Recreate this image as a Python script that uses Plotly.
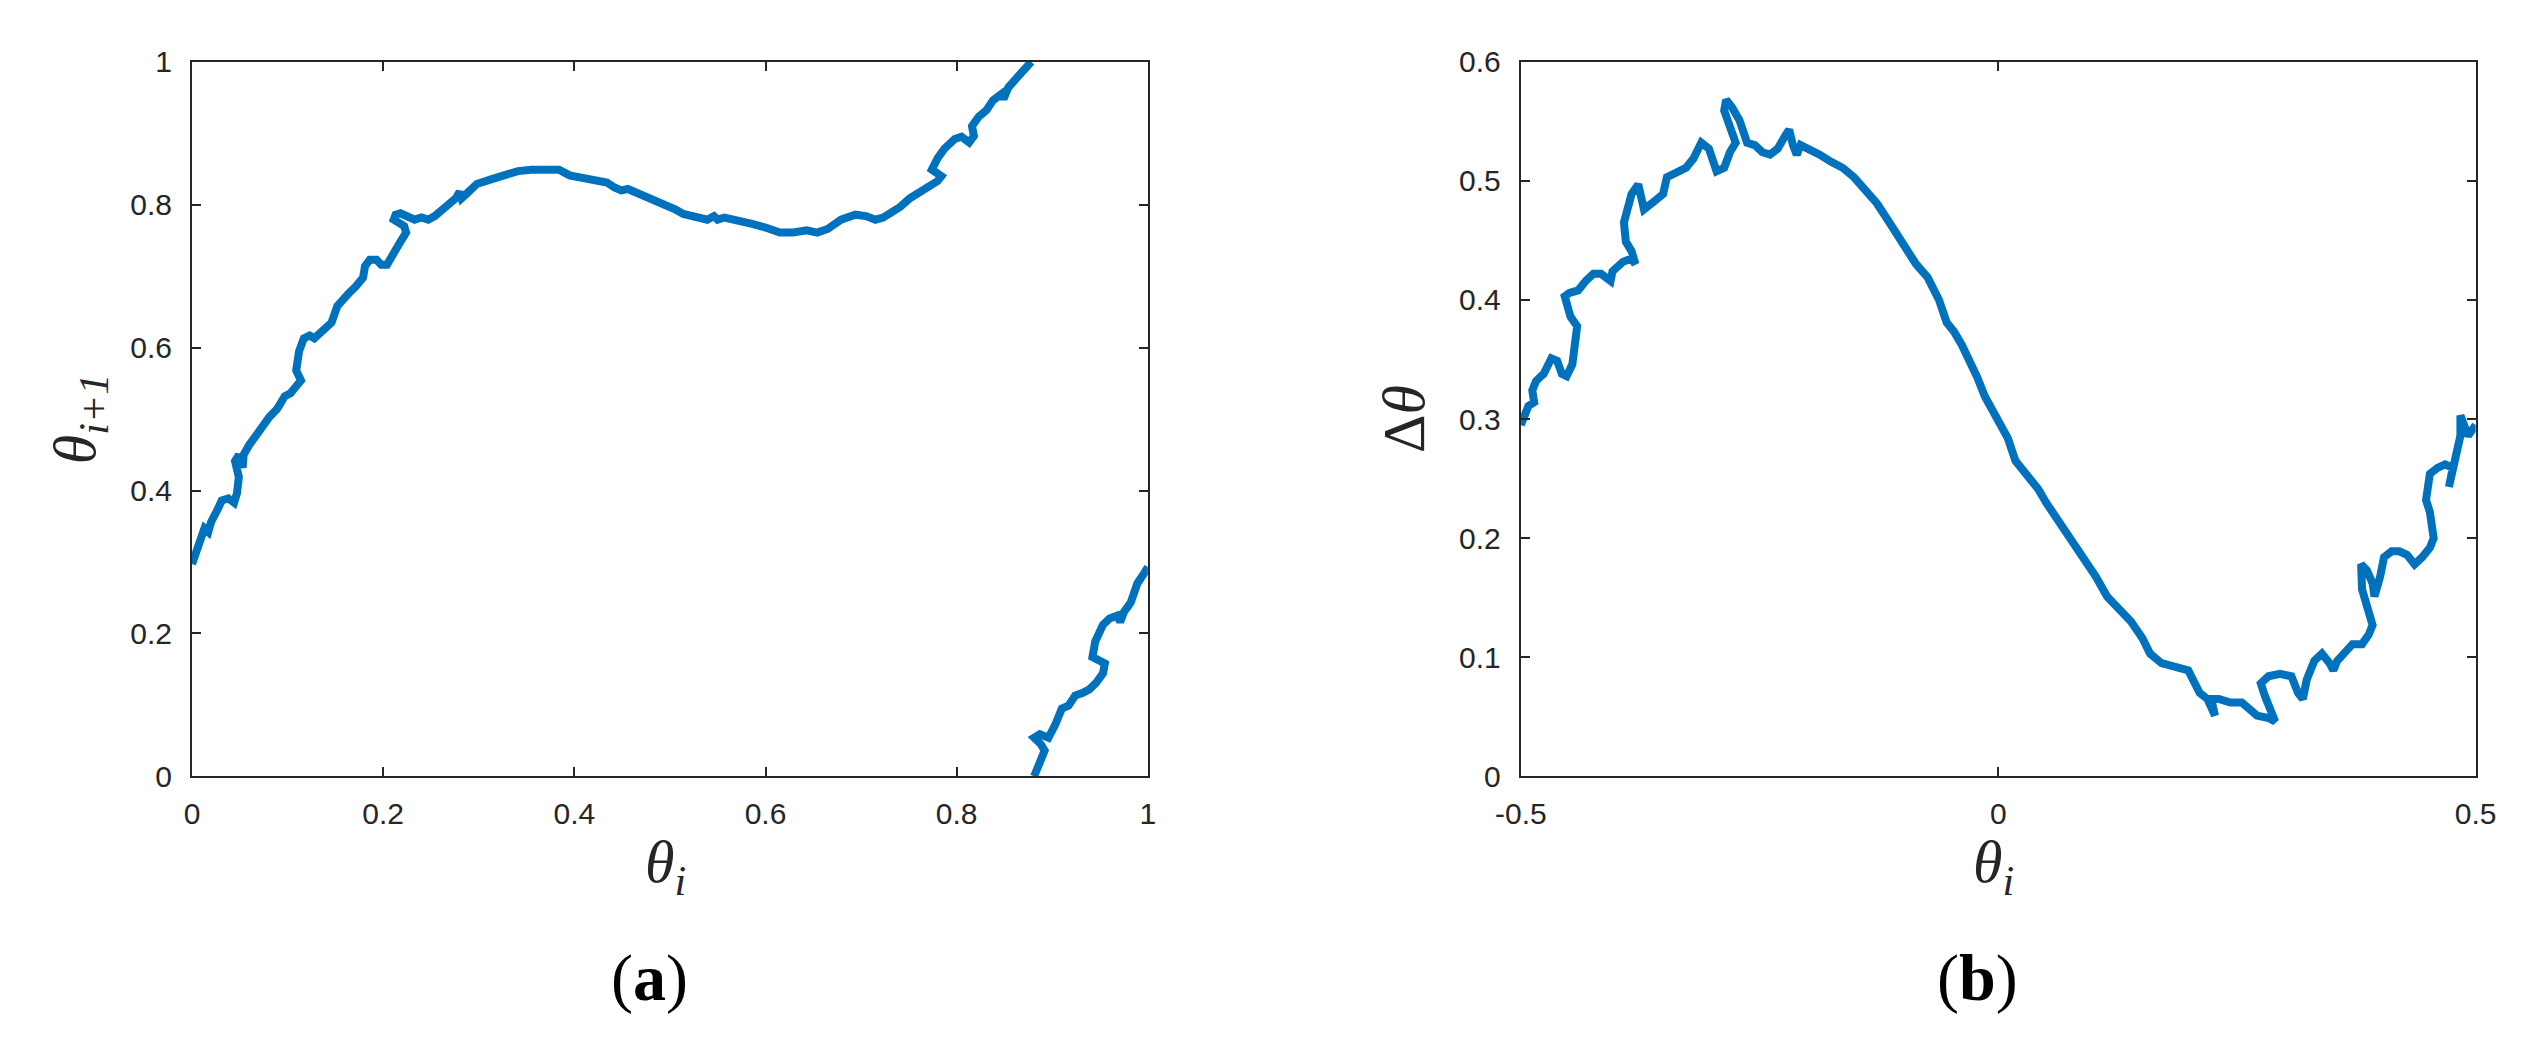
import plotly.graph_objects as go

# ---- Panel (a): theta_{i+1} vs theta_i ----
a1_x = [0.000, 0.006, 0.009, 0.013, 0.017, 0.020, 0.027, 0.031, 0.038, 0.044, 0.047, 0.049, 0.045, 0.049,
        0.053, 0.054, 0.060, 0.067, 0.074, 0.081, 0.089, 0.094, 0.097, 0.103, 0.110, 0.114, 0.109, 0.112,
        0.117, 0.123, 0.128, 0.135, 0.146, 0.152, 0.157, 0.164, 0.171, 0.179, 0.181, 0.186, 0.193, 0.198,
        0.204, 0.211, 0.218, 0.224, 0.222, 0.211, 0.213, 0.218, 0.226, 0.233, 0.240, 0.247, 0.254, 0.262,
        0.269, 0.276, 0.280, 0.282, 0.287, 0.298, 0.312, 0.326, 0.341, 0.355, 0.370, 0.384, 0.395, 0.406,
        0.420, 0.434, 0.442, 0.449, 0.456, 0.463, 0.478, 0.492, 0.506, 0.514, 0.528, 0.539, 0.546, 0.550,
        0.557, 0.571, 0.586, 0.600, 0.615, 0.629, 0.643, 0.654, 0.665, 0.679, 0.694, 0.705, 0.715, 0.723,
        0.730, 0.741, 0.751, 0.762, 0.773, 0.780, 0.784, 0.774, 0.780, 0.787, 0.798, 0.805, 0.813, 0.818,
        0.816, 0.823, 0.831, 0.838, 0.847, 0.849, 0.854, 0.863, 0.870, 0.878]
a1_y = [0.297, 0.320, 0.333, 0.347, 0.342, 0.356, 0.374, 0.386, 0.389, 0.383, 0.396, 0.419, 0.441, 0.450,
        0.432, 0.450, 0.464, 0.477, 0.491, 0.503, 0.514, 0.523, 0.532, 0.536, 0.550, 0.554, 0.568, 0.595,
        0.613, 0.617, 0.613, 0.623, 0.635, 0.658, 0.667, 0.676, 0.685, 0.698, 0.714, 0.723, 0.723, 0.716,
        0.716, 0.734, 0.748, 0.761, 0.770, 0.779, 0.786, 0.788, 0.784, 0.779, 0.782, 0.779, 0.784, 0.793,
        0.800, 0.809, 0.818, 0.809, 0.815, 0.829, 0.835, 0.842, 0.847, 0.849, 0.850, 0.849, 0.841, 0.838,
        0.837, 0.831, 0.824, 0.820, 0.822, 0.818, 0.811, 0.802, 0.793, 0.787, 0.782, 0.779, 0.784, 0.779,
        0.782, 0.779, 0.773, 0.768, 0.761, 0.761, 0.764, 0.761, 0.766, 0.779, 0.786, 0.784, 0.779, 0.782,
        0.788, 0.797, 0.809, 0.818, 0.824, 0.833, 0.840, 0.849, 0.865, 0.878, 0.892, 0.895, 0.887, 0.896,
        0.910, 0.923, 0.932, 0.946, 0.955, 0.948, 0.964, 0.977, 0.989, 1.000]

a2_x = [0.881, 0.887, 0.892, 0.888, 0.881, 0.887, 0.896, 0.903, 0.906, 0.910, 0.917, 0.924, 0.932, 0.939,
        0.946, 0.953, 0.955, 0.950, 0.942, 0.945, 0.950, 0.953, 0.960, 0.968, 0.971, 0.975, 0.982, 0.986,
        0.989, 0.996, 1.000]
a2_y = [0.000, 0.018, 0.036, 0.045, 0.054, 0.059, 0.054, 0.072, 0.086, 0.095, 0.099, 0.113, 0.117, 0.122,
        0.131, 0.144, 0.158, 0.162, 0.167, 0.189, 0.203, 0.212, 0.221, 0.225, 0.216, 0.230, 0.243, 0.261,
        0.270, 0.284, 0.293]

# ---- Panel (b): delta theta vs theta_i ----
b_x = [-0.500, -0.496, -0.492, -0.486, -0.488, -0.484, -0.476, -0.468, -0.462, -0.457, -0.452, -0.446,
       -0.444, -0.441, -0.448, -0.452, -0.454, -0.449, -0.440, -0.432, -0.424, -0.416, -0.406, -0.404,
       -0.393, -0.384, -0.380, -0.384, -0.390, -0.392, -0.388, -0.384, -0.377, -0.374, -0.371, -0.363,
       -0.351, -0.347, -0.337, -0.327, -0.319, -0.311, -0.303, -0.295, -0.287, -0.281, -0.275, -0.281,
       -0.287, -0.285, -0.279, -0.271, -0.267, -0.263, -0.255, -0.247, -0.239, -0.231, -0.223, -0.219,
       -0.215, -0.211, -0.207, -0.199, -0.187, -0.175, -0.163, -0.151, -0.139, -0.127, -0.114, -0.102,
       -0.086, -0.074, -0.062, -0.054, -0.046, -0.038, -0.030, -0.022, -0.014, -0.002, 0.010, 0.018,
       0.030, 0.042, 0.050, 0.062, 0.074, 0.090, 0.102, 0.114, 0.127, 0.139, 0.151, 0.159, 0.171, 0.187,
       0.199, 0.211, 0.219, 0.227, 0.223, 0.231, 0.243, 0.255, 0.263, 0.271, 0.283, 0.290, 0.279, 0.275,
       0.283, 0.295, 0.307, 0.314, 0.319, 0.323, 0.331, 0.339, 0.347, 0.351, 0.355, 0.363, 0.371, 0.381,
       0.388, 0.392, 0.381, 0.380, 0.386, 0.392, 0.394, 0.400, 0.404, 0.412, 0.420, 0.428, 0.436, 0.444,
       0.452, 0.456, 0.452, 0.448, 0.452, 0.460, 0.468, 0.476, 0.472, 0.476, 0.480, 0.484, 0.484, 0.488,
       0.492, 0.500]
b_y = [0.295, 0.303, 0.311, 0.314, 0.324, 0.332, 0.338, 0.351, 0.349, 0.338, 0.336, 0.346, 0.365, 0.378,
       0.386, 0.397, 0.403, 0.406, 0.408, 0.416, 0.422, 0.422, 0.416, 0.424, 0.432, 0.435, 0.430, 0.441,
       0.449, 0.465, 0.478, 0.489, 0.497, 0.486, 0.476, 0.481, 0.489, 0.503, 0.507, 0.511, 0.519, 0.532,
       0.527, 0.508, 0.511, 0.524, 0.532, 0.546, 0.559, 0.568, 0.562, 0.551, 0.538, 0.532, 0.530, 0.524,
       0.522, 0.527, 0.538, 0.543, 0.530, 0.522, 0.530, 0.527, 0.522, 0.516, 0.511, 0.503, 0.492, 0.481,
       0.465, 0.451, 0.430, 0.419, 0.400, 0.381, 0.373, 0.362, 0.349, 0.335, 0.319, 0.300, 0.284, 0.265,
       0.254, 0.241, 0.230, 0.216, 0.200, 0.184, 0.168, 0.151, 0.141, 0.130, 0.116, 0.103, 0.095, 0.092,
       0.089, 0.070, 0.065, 0.051, 0.065, 0.065, 0.062, 0.062, 0.057, 0.051, 0.049, 0.046, 0.068, 0.078,
       0.084, 0.086, 0.084, 0.070, 0.065, 0.081, 0.097, 0.103, 0.095, 0.089, 0.097, 0.105, 0.111, 0.111,
       0.119, 0.127, 0.157, 0.178, 0.173, 0.162, 0.151, 0.168, 0.184, 0.189, 0.189, 0.186, 0.178, 0.184,
       0.192, 0.200, 0.222, 0.232, 0.254, 0.259, 0.262, 0.259, 0.243, 0.254, 0.270, 0.286, 0.303, 0.292,
       0.286, 0.295]

a_xticks = [0, 0.2, 0.4, 0.6, 0.8, 1]
a_xticklabels = ["0", "0.2", "0.4", "0.6", "0.8", "1"]
a_yticks = [0, 0.2, 0.4, 0.6, 0.8, 1]
a_yticklabels = ["0", "0.2", "0.4", "0.6", "0.8", "1"]
b_xticks = [-0.5, 0, 0.5]
b_xticklabels = ["-0.5", "0", "0.5"]
b_yticks = [0, 0.1, 0.2, 0.3, 0.4, 0.5, 0.6]
b_yticklabels = ["0", "0.1", "0.2", "0.3", "0.4", "0.5", "0.6"]

W, H = 2525, 1040
BLUE = "#0072BD"
AX = "#262626"
line_style = dict(color=BLUE, width=8)

fig = go.Figure()
fig.add_trace(go.Scatter(x=a1_x, y=a1_y, mode="lines", line=line_style, xaxis="x", yaxis="y", showlegend=False))
fig.add_trace(go.Scatter(x=a2_x, y=a2_y, mode="lines", line=line_style, xaxis="x", yaxis="y", showlegend=False))
fig.add_trace(go.Scatter(x=b_x, y=b_y, mode="lines", line=line_style, xaxis="x2", yaxis="y2", showlegend=False))

tickfont = dict(family="Liberation Sans, Arial, sans-serif", size=30, color=AX)
common = dict(showgrid=False, zeroline=False, showline=True, linecolor=AX, linewidth=2,
              mirror="ticks", ticks="inside", ticklen=9, tickwidth=2, tickcolor=AX,
              tickfont=tickfont)

y0, y1 = 1 - 777 / H, 1 - 39 / H
fig.update_layout(
    width=W, height=H,
    margin=dict(l=0, r=0, t=0, b=0),
    paper_bgcolor="white", plot_bgcolor="white",
    xaxis=dict(domain=[161 / W, 1135 / W], range=[0, 1], tickvals=a_xticks, ticktext=a_xticklabels,
               anchor="y", ticklabelstandoff=10, **common),
    yaxis=dict(domain=[y0, y1], range=[0, 1], tickvals=a_yticks, ticktext=a_yticklabels,
               anchor="x", ticklabelstandoff=12, **common),
    xaxis2=dict(domain=[1515 / W, 2488 / W], range=[-0.5, 0.5], tickvals=b_xticks, ticktext=b_xticklabels,
                anchor="y2", ticklabelstandoff=10, **common),
    yaxis2=dict(domain=[y0, y1], range=[0, 0.6], tickvals=b_yticks, ticktext=b_yticklabels,
                anchor="x2", ticklabelstandoff=12, **common),
)

serif = "Liberation Serif, Times New Roman, serif"
ann = [
    dict(text="<i>θ<sub>i</sub></i>", x=643 / W, y=1 - 870 / H, font=dict(family=serif, size=60, color=AX)),
    dict(text="<i>θ<sub>i</sub></i>", x=1997 / W, y=1 - 870 / H, font=dict(family=serif, size=60, color=AX)),
    dict(text="<i>θ<sub>i+1</sub></i>", x=46 / W, y=1 - 408 / H, textangle=-90,
         font=dict(family=serif, size=60, color=AX)),
    dict(text="Δ<i>θ</i>", x=1396 / W, y=1 - 408 / H, textangle=-90,
         font=dict(family=serif, size=60, color=AX)),
    dict(text="(<b>a</b>)", x=627 / W, y=1 - 985 / H, font=dict(family=serif, size=66, color="black")),
    dict(text="(<b>b</b>)", x=1980 / W, y=1 - 985 / H, font=dict(family=serif, size=66, color="black")),
]
for a in ann:
    a.update(xref="paper", yref="paper", showarrow=False, xanchor="center", yanchor="middle")
fig.update_layout(annotations=ann)

fig.write_html("out.html")
